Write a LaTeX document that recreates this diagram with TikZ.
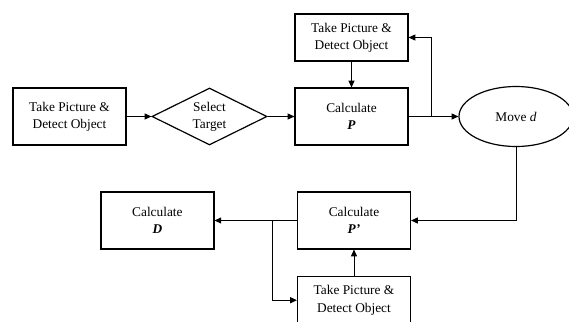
\documentclass[tikz,border=0pt]{standalone}
\usepackage{fontspec}
\setmainfont{Liberation Serif}
\usepackage{tikz}
\usetikzlibrary{shapes.geometric}
\usetikzlibrary{arrows.meta}
\tikzstyle{box}=[draw,line width=0.9pt,minimum width=84.75pt,minimum height=42.75pt,inner sep=0pt,align=center,font=\fontsize{10}{13}\selectfont]
\tikzstyle{picbox}=[box,minimum height=35.25pt]
\tikzstyle{link}=[line width=0.6pt,-{Triangle[length=5pt,width=4.5pt]}]
\newcommand{\takepic}[2]{\node[picbox] (#1) at (#2) {Take Picture \&\\Detect Object}}
\newcommand{\calc}[3]{\node[box] (#1) at (#2) {Calculate\\\textbf{\textit{#3}}}}

\begin{document}
\begin{tikzpicture}[x=0.75pt,y=-0.75pt]
       \useasboundingbox (0,0) rectangle (569,322);
       \node[box] (pic) at (69.5,116.5) {Take Picture \&\\Detect Object};
       \node[box,diamond,aspect=2,minimum width=86.25pt] (sel) at (209.5,116.5) {Select\\Target};
       \calc{calcP}{351.5,116.5}{P};
       \takepic{picTop}{351.5,37.5};
       \node[box,ellipse,minimum width=85.5pt,minimum height=45pt] (move) at (516,116.5) {Move \textit{d}};
       \calc{calcPp}{354,220.5}{P’};
       \calc{calcD}{157.4,220.5}{D};
       \takepic{picBot}{354,300.2};
       % top row
       \draw[link] (pic) -- (sel);
       \draw[link] (sel) -- (calcP);
       \draw[link] (picTop) -- (calcP);
       \draw[link] (calcP) -- (move);
       \draw[link] (calcP.east) -- ++(23,0) |- (picTop.east);
       % bottom row
       \draw[link] (move.south) |- (calcPp.east);
       \draw[link] (picBot) -- (calcPp);
       \draw[link] (calcPp) -- (calcD);
       \draw[link] (calcPp.west) ++(-24.4,0) |- (picBot.west);
\end{tikzpicture}
\end{document}
